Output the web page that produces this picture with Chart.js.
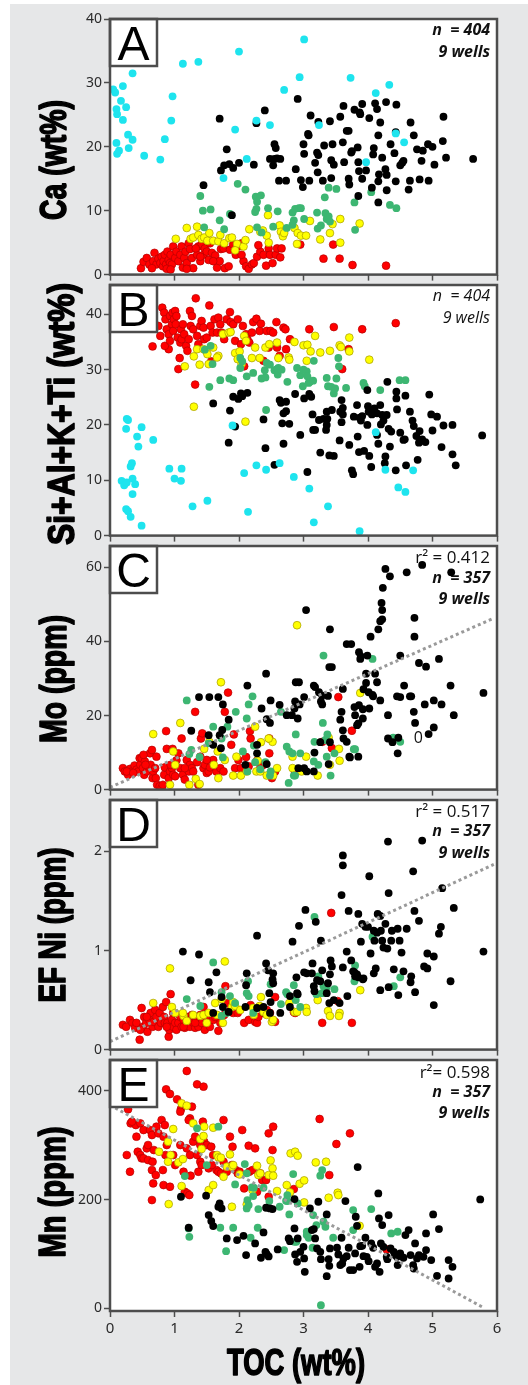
<!DOCTYPE html>
<html>
<head>
<meta charset="utf-8">
<title>TOC cross-plots</title>
<script src="https://cdn.jsdelivr.net/npm/chart.js@4/dist/chart.umd.min.js"></script>
<style>
  html, body { margin: 0; padding: 0; background: #fff; }
  body { width: 528px; height: 1385px; position: relative; overflow: hidden; }
  #bg { position: absolute; left: 10px; top: 4px; right: 0; bottom: 0; background: #e6e7e8; }
  .panel { position: absolute; left: 10px; width: 500px; }
</style>
</head>
<body>
<div id="bg"></div>
<div class="panel" id="wrapA"><canvas id="chartA"></canvas></div>
<div class="panel" id="wrapB"><canvas id="chartB"></canvas></div>
<div class="panel" id="wrapC"><canvas id="chartC"></canvas></div>
<div class="panel" id="wrapD"><canvas id="chartD"></canvas></div>
<div class="panel" id="wrapE"><canvas id="chartE"></canvas></div>
<script>
// ── Shared axis ──
const xTicks = [0, 1, 2, 3, 4, 5, 6];

// ── Panel A: Ca (wt%) vs TOC ──
const aTicks = [0, 10, 20, 30, 40];
const aCyan = [[0.05,29.0],[0.08,28.5],[0.20,29.5],[0.35,31.5],[0.17,27.2],[0.10,25.9],[0.11,25.1],[0.25,26.2],[0.20,24.2],[0.28,21.9],[0.35,21.1],[0.29,19.8],[0.10,20.6],[0.14,19.4],[0.11,18.9],[0.53,18.6],[0.78,18.0],[0.85,21.2],[0.95,24.1],[0.97,27.9],[1.13,33.0],[1.37,33.3],[2.00,34.9],[1.94,22.7],[1.76,15.1],[2.12,18.1],[2.27,24.1],[2.48,23.4],[2.70,28.9],[2.94,30.9],[3.01,36.8],[3.24,23.4],[3.73,30.8],[3.97,17.6],[4.12,28.4],[4.33,29.7],[4.43,22.1],[4.56,20.7]];
const aBlack = [[1.45,14.0],[1.70,24.4],[1.81,19.6],[1.72,16.3],[1.77,17.1],[1.85,17.3],[1.91,16.7],[2.00,17.5],[1.89,9.3],[2.23,17.2],[2.27,23.7],[2.40,25.7],[2.55,20.4],[2.57,19.8],[2.48,18.1],[2.55,18.1],[2.59,18.2],[2.64,18.1],[2.53,17.1],[2.62,14.7],[2.73,14.7],[2.91,27.5],[2.88,16.5],[2.96,14.8],[2.99,13.7],[3.00,20.4],[3.01,18.9],[3.09,14.7],[3.08,21.8],[3.07,22.0],[3.11,24.9],[3.23,23.9],[3.18,17.5],[3.21,19.1],[3.23,18.7],[3.22,16.0],[3.30,14.7],[3.32,20.2],[3.41,24.0],[3.43,17.9],[3.45,20.4],[3.47,17.2],[3.43,15.1],[3.57,24.7],[3.62,26.4],[3.61,20.7],[3.63,17.6],[3.67,22.5],[3.70,22.5],[3.70,15.0],[3.71,14.1],[3.74,19.1],[3.75,19.3],[3.79,25.8],[3.84,19.9],[3.85,17.6],[3.86,16.2],[3.87,25.4],[3.88,25.1],[3.91,26.7],[3.91,15.0],[3.85,12.3],[3.97,16.3],[4.02,24.5],[4.08,18.8],[4.09,19.8],[4.06,13.6],[4.11,26.8],[4.14,25.9],[4.16,21.8],[4.16,14.6],[4.17,15.7],[4.19,23.8],[4.22,18.3],[4.27,16.5],[4.28,27.0],[4.29,15.6],[4.29,13.2],[4.35,20.4],[4.41,19.0],[4.43,14.6],[4.44,26.6],[4.43,22.3],[4.50,17.1],[4.53,17.5],[4.55,17.8],[4.63,13.3],[4.66,23.8],[4.65,14.7],[4.71,21.8],[4.76,19.6],[4.80,14.9],[4.83,17.8],[4.85,19.4],[4.93,20.4],[4.94,14.7],[5.00,20.0],[5.03,17.2],[5.16,20.9],[5.17,24.7],[5.21,18.3],[5.63,18.1],[4.16,11.3]];
const aGreen = [[1.40,12.3],[1.44,10.0],[1.56,10.2],[1.46,7.4],[1.70,8.5],[1.77,7.1],[1.86,9.5],[1.98,14.2],[2.10,13.3],[2.26,12.2],[2.34,12.4],[2.28,11.4],[2.27,10.3],[2.25,9.8],[2.45,10.4],[2.60,9.9],[2.28,7.4],[2.35,6.6],[2.53,7.5],[2.74,7.3],[2.83,9.7],[2.85,8.5],[2.87,10.3],[2.93,10.4],[2.96,10.4],[2.83,7.8],[3.01,8.7],[3.21,9.7],[3.22,7.2],[3.27,7.7],[3.33,12.1],[3.34,9.6],[3.36,8.7],[3.39,9.1],[3.41,8.3],[3.39,13.6],[3.51,13.4],[3.79,11.3],[3.80,7.0],[4.05,12.9],[4.34,10.9],[4.44,10.4]];
const aYellow = [[1.02,5.6],[1.19,7.3],[1.25,5.6],[1.29,5.8],[1.35,7.5],[1.37,6.2],[1.42,5.6],[1.46,5.8],[1.51,5.3],[1.54,6.5],[1.60,5.3],[1.68,5.2],[1.71,6.2],[1.77,4.9],[1.85,5.7],[1.89,5.8],[1.97,4.8],[1.94,3.8],[2.07,4.4],[2.10,5.4],[2.16,7.1],[2.33,6.7],[2.37,6.9],[2.43,6.1],[2.45,9.3],[2.46,5.0],[2.63,7.7],[2.65,6.7],[2.68,6.0],[2.70,6.5],[2.86,7.3],[2.91,6.5],[2.90,4.8],[2.96,6.1],[3.04,6.1],[3.10,8.4],[3.26,5.5],[3.41,6.5],[3.45,7.9],[3.57,8.7],[3.57,5.0],[3.87,8.0]];
const aRed = [[0.48,1.0],[0.52,2.0],[0.57,2.6],[0.61,1.6],[0.67,2.1],[0.69,3.4],[0.72,1.6],[0.75,2.5],[0.78,1.8],[0.80,2.8],[0.82,1.3],[0.83,2.1],[0.85,3.1],[0.87,1.6],[0.89,3.6],[0.91,2.3],[0.92,1.0],[0.93,1.8],[0.94,3.1],[0.96,1.6],[0.98,4.4],[1.01,2.6],[1.03,3.6],[1.06,2.1],[1.09,3.1],[1.11,4.4],[1.13,1.1],[1.15,2.6],[1.17,3.6],[1.19,1.8],[1.22,4.9],[1.24,4.0],[1.27,2.6],[1.29,1.0],[1.35,3.1],[1.37,4.4],[1.40,2.1],[1.42,4.7],[1.45,3.1],[1.47,4.1],[1.50,3.6],[1.53,2.3],[1.55,4.9],[1.58,3.4],[1.63,3.0],[1.66,1.1],[1.70,2.1],[1.72,4.0],[1.76,4.1],[1.78,1.0],[1.84,1.3],[1.86,3.9],[1.91,4.7],[1.95,3.1],[1.99,4.4],[2.04,4.9],[2.07,2.1],[2.11,1.3],[2.15,0.9],[2.20,1.6],[2.23,1.8],[2.28,2.8],[2.33,3.6],[2.30,4.6],[2.38,3.1],[2.42,1.4],[2.46,4.1],[2.48,3.1],[2.52,1.8],[2.57,3.1],[2.59,4.1],[2.64,2.7],[2.66,4.1],[2.95,4.7],[3.31,2.5],[3.46,4.7],[3.56,2.5],[3.76,1.5],[4.28,1.4],[1.19,0.9],[0.88,0.9],[0.94,0.8],[0.65,1.0],[2.04,3.1],[1.60,2.1],[1.40,2.8],[1.33,4.1]];

// ── Panel B: Si+Al+K+Ti (wt%) vs TOC ──
const bTicks = [0, 10, 20, 30, 40];
const bCyan = [[0.18,9.9],[0.22,9.1],[0.26,9.6],[0.25,19.3],[0.28,20.9],[0.26,21.1],[0.32,12.5],[0.34,13.1],[0.35,10.3],[0.39,9.3],[0.35,7.5],[0.42,17.9],[0.44,16.1],[0.49,19.6],[0.67,17.3],[0.25,4.8],[0.28,4.4],[0.32,3.4],[0.49,1.8],[0.92,12.1],[1.00,10.3],[1.10,9.9],[1.11,12.1],[1.28,5.3],[1.51,6.3],[1.90,19.9],[2.08,11.3],[2.14,4.3],[2.27,12.7],[2.42,11.9],[2.63,13.1],[2.85,10.6],[3.09,8.5],[3.16,2.4],[3.38,5.3],[3.87,0.8],[4.12,18.7],[4.27,11.9],[4.47,8.7],[4.58,7.9],[4.70,11.8]];
const bBlack = [[1.60,23.9],[1.86,22.6],[1.91,25.1],[1.94,19.7],[1.99,24.7],[2.03,25.7],[2.05,25.2],[2.13,25.8],[1.84,16.8],[2.38,21.0],[2.41,15.8],[2.55,12.8],[2.63,24.5],[2.65,24.0],[2.67,20.3],[2.69,22.1],[2.69,16.6],[2.73,22.5],[2.73,24.2],[2.78,20.2],[2.87,25.6],[3.01,24.8],[3.06,11.5],[3.09,25.6],[3.12,25.1],[3.14,21.9],[3.15,19.1],[3.18,19.1],[3.24,20.9],[3.26,15.0],[3.31,21.1],[3.35,19.1],[3.36,22.4],[3.37,21.1],[3.40,14.5],[3.44,22.7],[3.47,14.4],[3.56,17.2],[3.57,22.4],[3.59,20.5],[3.61,23.1],[3.59,24.5],[3.61,21.9],[3.71,16.4],[3.75,11.8],[3.77,11.1],[3.78,21.5],[3.83,23.6],[3.84,17.9],[3.86,15.1],[3.87,21.3],[3.89,20.8],[3.91,21.6],[3.94,15.3],[3.99,26.3],[3.99,20.0],[4.00,23.4],[4.01,22.4],[4.02,14.4],[4.05,12.4],[4.06,21.9],[4.10,23.0],[4.14,22.1],[4.16,16.6],[4.19,23.6],[4.20,20.1],[4.22,21.8],[4.24,20.8],[4.27,14.3],[4.26,13.1],[4.30,27.8],[4.29,21.8],[4.34,16.1],[4.32,19.3],[4.36,18.8],[4.43,11.8],[4.44,26.0],[4.45,22.8],[4.44,24.8],[4.50,18.6],[4.55,17.3],[4.58,25.3],[4.57,17.4],[4.59,12.7],[4.65,22.4],[4.69,20.8],[4.71,19.8],[4.75,18.0],[4.77,13.7],[4.79,16.8],[4.80,18.9],[4.84,17.4],[4.89,16.9],[4.95,25.5],[4.98,21.9],[5.00,19.0],[5.07,21.5],[5.14,16.0],[5.17,19.9],[5.31,20.0],[5.31,14.7],[5.36,12.7],[5.77,18.1],[2.95,18.2],[3.36,20.0],[4.14,18.2]];
const bGreen = [[1.47,33.6],[1.59,31.0],[1.54,26.9],[1.71,28.1],[1.85,28.4],[1.91,28.1],[2.02,32.1],[2.02,30.3],[2.12,28.8],[2.22,29.4],[2.35,28.4],[2.41,28.6],[2.40,29.9],[2.43,31.2],[2.48,30.9],[2.55,29.9],[2.60,29.1],[2.59,30.1],[2.61,30.3],[2.66,30.0],[2.75,27.8],[2.90,30.3],[2.95,29.0],[2.99,27.0],[3.00,30.0],[3.05,29.7],[3.06,28.8],[3.10,27.8],[3.16,31.6],[3.08,27.6],[3.15,28.0],[3.36,28.5],[3.38,27.0],[3.43,26.9],[3.47,25.7],[3.49,26.6],[3.51,28.4],[3.54,32.1],[3.55,30.6],[3.66,26.7],[3.93,27.6],[3.95,27.0],[4.19,26.3],[4.49,28.1],[4.58,28.1],[2.42,22.7],[1.56,34.3],[2.05,31.5]];
const bYellow = [[1.30,32.4],[1.35,33.7],[1.39,30.9],[1.45,33.7],[1.49,33.4],[1.51,32.8],[1.53,31.0],[1.68,32.5],[1.75,36.4],[1.84,36.7],[1.87,36.8],[1.94,33.0],[1.98,31.9],[2.01,33.3],[2.04,31.0],[2.08,36.1],[2.11,35.2],[2.20,32.1],[2.25,34.0],[2.32,32.1],[2.41,34.0],[2.47,34.6],[2.59,34.9],[2.61,32.1],[2.77,32.2],[2.78,31.8],[2.86,35.0],[3.00,34.4],[3.06,34.5],[3.05,31.6],[3.11,33.3],[3.18,36.1],[3.26,33.1],[3.41,33.4],[3.56,34.4],[3.58,34.1],[3.71,35.8],[3.71,33.3],[4.02,31.8],[2.10,20.6],[1.30,23.3],[1.16,30.6],[1.60,34.0],[1.66,32.2]];
const bRed = [[0.66,34.2],[0.75,37.9],[0.81,41.2],[0.84,40.3],[0.86,39.1],[0.88,37.3],[0.91,36.4],[0.91,33.7],[0.93,39.7],[0.96,38.2],[0.97,40.3],[0.98,37.0],[0.99,39.1],[1.01,40.6],[1.02,38.2],[1.03,39.7],[1.05,35.8],[1.06,30.1],[1.08,32.1],[1.09,34.9],[1.10,37.3],[1.11,35.5],[1.13,38.2],[1.15,36.4],[1.18,34.3],[1.20,33.4],[1.22,35.5],[1.24,40.6],[1.25,37.9],[1.27,39.7],[1.29,37.3],[1.32,27.3],[1.33,42.9],[1.35,36.1],[1.37,34.6],[1.40,37.9],[1.42,38.8],[1.45,37.6],[1.46,35.5],[1.50,35.8],[1.54,41.6],[1.56,37.9],[1.57,31.5],[1.59,36.7],[1.62,39.1],[1.66,36.7],[1.68,39.4],[1.71,38.2],[1.73,36.7],[1.77,35.5],[1.81,39.1],[1.86,40.4],[1.87,38.6],[1.91,38.2],[1.94,35.2],[1.98,39.1],[2.03,34.6],[2.06,37.9],[2.08,30.6],[2.11,36.4],[2.13,35.5],[2.16,34.9],[2.20,36.7],[2.22,38.6],[2.27,39.2],[2.32,37.0],[2.34,38.3],[2.38,31.6],[2.43,37.0],[2.46,34.0],[2.49,37.0],[2.53,36.7],[2.58,38.6],[2.59,34.0],[2.63,32.5],[2.69,37.6],[2.72,37.3],[2.73,33.7],[2.79,35.5],[3.09,37.3],[3.47,37.7],[3.70,33.7],[3.60,30.1],[3.91,37.3],[4.43,38.4],[0.78,36.1],[0.85,34.3],[0.93,35.2]];

// ── Panel C: Mo (ppm) vs TOC ──
const cTicks = [0, 20, 40, 60];
const cTrend = [[0, 0.6], [5.95, 46.3]];
const cBlack = [[4.27,59.6],[4.34,57.6],[4.23,54.5],[4.21,50.4],[4.22,48.5],[4.19,45.5],[4.16,43.3],[4.22,46.0],[4.60,58.7],[4.84,60.7],[5.29,58.7],[4.72,46.4],[4.72,41.3],[4.79,34.2],[4.90,33.2],[5.10,35.3],[3.04,48.5],[3.41,43.3],[3.40,33.1],[3.44,33.1],[3.67,39.3],[3.74,39.3],[3.86,37.1],[3.89,36.0],[3.88,35.3],[3.99,36.2],[4.04,41.3],[3.97,31.3],[4.11,31.3],[4.14,29.0],[4.19,24.1],[4.50,36.2],[4.56,28.1],[4.65,25.2],[4.67,25.2],[4.71,21.0],[4.73,18.0],[4.88,23.0],[5.02,24.1],[5.14,23.0],[5.28,28.1],[5.33,20.1],[5.79,26.1],[4.31,20.1],[4.45,25.2],[4.50,25.0],[4.31,13.8],[4.38,12.8],[4.46,9.8],[4.47,14.0],[4.94,15.0],[5.02,16.8],[3.93,27.1],[3.86,22.8],[3.92,19.2],[3.92,21.7],[3.85,17.9],[4.07,25.6],[4.02,21.9],[4.08,25.2],[4.01,26.3],[3.97,28.8],[3.61,27.2],[3.57,18.9],[3.59,21.0],[3.61,16.0],[3.62,13.8],[3.67,12.9],[3.71,8.9],[3.72,8.7],[3.85,8.9],[3.79,22.3],[3.80,20.1],[3.83,17.4],[3.38,25.3],[3.29,25.4],[3.27,23.8],[3.29,23.0],[3.24,26.3],[3.18,27.7],[3.16,28.1],[2.93,29.0],[2.88,29.0],[3.01,25.0],[2.94,23.0],[2.91,19.2],[2.87,23.8],[2.86,21.9],[2.82,20.1],[2.74,20.1],[2.63,22.9],[2.49,24.1],[2.43,19.0],[2.48,18.0],[2.42,31.3],[2.35,21.9],[2.13,28.1],[1.54,25.0],[1.68,25.0],[1.75,23.0],[1.84,18.9],[1.74,16.1],[1.70,14.7],[1.53,14.7],[1.60,12.1],[1.26,15.9],[1.38,25.0],[2.28,9.8],[2.43,6.9],[3.01,5.8],[2.92,5.8],[3.05,4.9],[3.16,4.9],[3.17,10.0],[3.26,12.8],[3.41,12.8],[3.39,6.9],[2.28,12.1],[2.10,6.7],[1.72,11.2]];
const cGreen = [[1.19,24.1],[2.21,25.2],[2.15,23.0],[2.12,19.2],[1.95,21.0],[1.82,17.0],[1.60,17.0],[1.26,10.7],[1.23,9.6],[1.39,8.8],[1.53,12.5],[1.73,13.8],[1.75,8.7],[2.23,11.9],[2.25,7.4],[2.33,5.5],[2.41,7.4],[2.65,21.0],[2.74,11.6],[2.78,10.3],[2.83,9.8],[2.88,14.9],[2.95,9.8],[2.85,3.8],[2.77,1.8],[2.87,3.8],[3.16,7.6],[3.17,12.9],[3.23,6.7],[3.30,18.0],[3.34,13.4],[3.37,14.9],[3.36,8.9],[3.42,3.8],[3.31,36.2],[3.48,9.8],[3.78,10.9],[3.80,10.9],[4.07,35.3],[4.39,14.0],[4.50,12.9],[2.49,4.9],[2.48,3.8],[2.06,10.3],[2.13,4.9]];
const cYellow = [[0.67,15.0],[1.09,18.0],[1.72,29.0],[2.90,44.4],[3.88,26.1],[0.98,10.3],[1.01,6.7],[0.93,1.3],[1.23,1.3],[1.33,2.9],[1.46,11.0],[1.54,12.9],[1.61,6.7],[1.68,3.1],[1.78,8.0],[1.91,3.8],[1.96,8.9],[2.03,3.8],[2.12,4.9],[2.25,17.0],[2.27,4.9],[2.29,7.8],[2.33,4.9],[2.34,12.8],[2.43,3.8],[2.52,12.9],[2.53,3.8],[2.59,5.8],[2.83,8.9],[2.83,5.8],[2.97,4.9],[3.04,8.9],[3.22,3.8],[3.39,14.0],[3.41,6.7],[3.55,11.0],[3.56,7.8],[1.39,1.5],[1.67,10.3],[2.46,13.8]];
const cRed = [[0.20,5.8],[0.23,4.9],[0.28,4.0],[0.31,5.6],[0.34,4.9],[0.38,6.5],[0.41,5.4],[0.44,4.9],[0.46,8.5],[0.47,6.7],[0.49,8.5],[0.51,5.8],[0.53,4.0],[0.54,7.6],[0.57,4.9],[0.59,6.3],[0.62,9.8],[0.63,6.7],[0.65,10.7],[0.66,3.1],[0.67,4.9],[0.70,5.8],[0.71,3.1],[0.73,1.3],[0.77,0.9],[0.80,0.4],[0.82,1.3],[0.84,4.0],[0.85,6.0],[0.87,15.8],[0.88,11.0],[0.91,3.1],[0.93,4.9],[0.96,5.8],[0.97,11.0],[0.98,4.0],[1.01,3.6],[1.03,7.9],[1.06,9.8],[1.09,5.8],[1.11,13.8],[1.13,4.0],[1.16,2.7],[1.19,8.0],[1.22,4.9],[1.24,6.7],[1.27,5.8],[1.29,4.9],[1.32,21.0],[1.35,7.4],[1.37,1.3],[1.40,8.9],[1.41,13.8],[1.43,15.2],[1.45,5.8],[1.47,6.7],[1.50,4.5],[1.53,4.9],[1.55,6.0],[1.60,8.0],[1.65,4.9],[1.71,5.8],[1.76,4.9],[1.78,21.0],[1.83,26.2],[1.92,14.9],[1.94,5.8],[1.99,8.0],[2.03,5.8],[2.11,8.8],[2.15,6.3],[2.17,15.8],[2.18,13.8],[2.28,7.8],[2.33,5.8],[2.38,6.7],[2.47,13.8],[2.47,9.8],[2.51,3.1],[2.56,4.9],[2.87,4.5],[3.29,12.9],[3.44,11.2],[3.54,25.0],[3.75,15.9],[0.55,6.7],[0.26,4.9],[0.36,4.5],[0.52,9.4],[0.72,8.9],[0.94,6.7],[1.16,5.8],[1.50,8.0],[1.88,12.1]];
const cMarks = [[4.78, 13.8, '0']];

// ── Panel D: EF Ni (ppm) vs TOC ──
const dTicks = [0, 1, 2];
const dTrend = [[0, 0.08], [5.95, 1.87]];
const dBlack = [[1.13,0.99],[1.38,0.96],[1.25,0.70],[1.53,0.68],[1.55,0.58],[1.65,0.78],[1.73,0.53],[1.60,0.37],[1.75,0.43],[1.84,0.38],[2.11,0.65],[2.12,0.77],[2.28,1.15],[2.10,0.43],[2.28,0.42],[2.42,0.87],[2.45,0.80],[2.52,0.71],[2.53,0.67],[2.47,0.57],[2.49,0.48],[2.64,0.37],[2.79,0.43],[2.83,1.09],[2.89,0.73],[2.93,1.25],[2.91,0.56],[3.03,1.41],[3.01,0.78],[3.05,0.77],[3.13,0.77],[3.14,0.87],[3.16,0.64],[3.17,0.59],[3.19,1.29],[3.21,0.70],[3.26,0.69],[3.27,1.10],[3.29,0.80],[3.36,0.57],[3.38,0.67],[3.41,0.76],[3.42,0.90],[3.44,0.84],[3.40,0.47],[3.56,0.47],[3.59,1.56],[3.61,1.96],[3.61,1.86],[3.61,0.83],[3.67,0.99],[3.70,1.40],[3.68,0.54],[3.74,0.90],[3.77,0.79],[3.79,0.78],[3.80,0.74],[3.85,1.37],[3.89,1.09],[3.91,1.27],[3.93,0.72],[3.92,0.71],[3.96,1.24],[4.00,1.24],[4.02,1.75],[4.04,0.97],[4.09,0.77],[4.10,1.10],[4.12,0.82],[4.14,1.18],[4.15,1.37],[4.19,1.35],[4.19,0.60],[4.20,1.20],[4.22,1.10],[4.24,1.03],[4.27,1.27],[4.30,1.02],[4.31,2.10],[4.32,1.58],[4.32,0.63],[4.36,1.10],[4.37,1.20],[4.40,0.81],[4.46,1.22],[4.47,0.55],[4.49,1.10],[4.52,0.98],[4.55,0.79],[4.60,1.22],[4.66,0.68],[4.67,0.74],[4.70,1.80],[4.72,1.40],[4.73,0.58],[4.79,1.30],[4.84,2.11],[4.87,0.84],[4.92,0.82],[4.92,0.97],[5.02,0.94],[5.02,0.45],[5.10,1.17],[5.13,1.24],[5.15,1.63],[5.28,0.69],[5.33,1.43],[5.79,0.99],[4.09,1.20],[3.85,0.73],[3.83,0.76],[2.53,0.77],[2.38,0.43],[2.48,0.37],[2.79,0.54],[2.90,0.57],[3.47,0.50]];
const dGreen = [[1.60,0.88],[1.19,0.51],[1.40,0.44],[1.73,0.58],[1.86,0.54],[1.94,0.47],[2.12,0.57],[2.14,0.69],[2.15,0.54],[2.22,0.37],[2.49,0.66],[2.65,0.46],[2.73,0.58],[2.75,0.56],[2.85,0.65],[2.88,0.50],[2.95,0.43],[3.17,1.34],[3.20,0.56],[3.23,0.74],[3.29,0.57],[3.31,0.64],[3.34,0.65],[3.36,0.63],[3.48,0.61],[3.80,0.85],[3.79,0.69],[4.07,1.14],[4.40,0.64],[4.50,0.73],[1.81,0.37],[1.73,0.34]];
const dYellow = [[0.93,0.82],[1.78,0.89],[0.67,0.47],[0.96,0.43],[1.01,0.37],[1.14,0.34],[1.13,0.37],[1.29,0.35],[1.40,0.34],[1.45,0.35],[1.53,0.37],[1.63,0.47],[1.66,0.35],[1.73,0.51],[1.75,0.27],[1.89,0.43],[1.91,0.48],[1.94,0.44],[2.02,0.40],[2.22,0.42],[2.23,0.35],[2.34,0.53],[2.38,0.38],[2.43,0.35],[2.51,0.28],[2.53,0.30],[2.78,0.47],[2.86,0.38],[2.90,0.38],[3.04,0.42],[3.05,0.38],[3.22,0.50],[3.38,0.39],[3.41,0.34],[3.56,0.37],[3.55,0.34],[3.88,0.60],[1.19,0.29],[1.50,0.27],[2.32,0.44]];
const dRed = [[0.20,0.25],[0.25,0.23],[0.31,0.30],[0.35,0.27],[0.39,0.22],[0.41,0.27],[0.46,0.10],[0.49,0.42],[0.51,0.23],[0.53,0.33],[0.56,0.27],[0.58,0.18],[0.61,0.30],[0.63,0.37],[0.66,0.23],[0.68,0.28],[0.70,0.40],[0.72,0.33],[0.75,0.23],[0.77,0.37],[0.79,0.27],[0.82,0.43],[0.84,0.33],[0.85,0.27],[0.87,0.48],[0.89,0.27],[0.91,0.13],[0.92,0.20],[0.94,0.56],[0.96,0.30],[0.98,0.23],[1.01,0.27],[1.03,0.20],[1.06,0.27],[1.09,0.33],[1.11,0.23],[1.14,0.30],[1.16,0.22],[1.19,0.33],[1.22,0.27],[1.24,0.23],[1.27,0.35],[1.29,0.27],[1.32,0.22],[1.35,0.30],[1.37,0.23],[1.40,0.35],[1.42,0.27],[1.45,0.43],[1.47,0.20],[1.50,0.30],[1.53,0.27],[1.55,0.23],[1.60,0.30],[1.63,0.33],[1.68,0.19],[1.71,0.27],[1.77,0.35],[1.79,0.64],[1.83,0.47],[1.86,0.39],[1.91,0.37],[1.98,0.37],[2.08,0.27],[2.15,0.30],[2.18,0.45],[2.25,0.28],[2.28,0.27],[2.30,0.33],[2.38,0.37],[2.43,0.40],[2.48,0.37],[2.56,0.28],[2.56,0.53],[2.85,0.38],[2.87,0.37],[3.29,0.27],[3.43,1.38],[3.53,0.49],[3.75,0.27],[0.47,0.20],[0.57,0.33],[0.88,0.23],[0.98,0.37],[1.14,0.23],[1.32,0.27]];

// ── Panel E: Mn (ppm) vs TOC ──
const eTicks = [0, 200, 400];
const eTrend = [[0, 374], [5.8, 1]];
const eBlack = [[1.10,205.5],[1.22,148.5],[1.49,207.4],[1.53,171.8],[1.57,160.7],[1.60,151.5],[1.68,187.1],[1.70,193.3],[1.73,184.1],[1.81,128.8],[1.97,125.8],[2.07,133.7],[2.11,98.2],[2.25,119.6],[2.34,93.3],[2.38,139.9],[2.41,104.3],[2.43,100.0],[2.46,95.7],[2.42,185.3],[2.48,184.1],[2.52,182.8],[2.60,108.6],[2.77,128.8],[2.79,123.9],[2.86,201.2],[2.86,147.2],[2.87,99.4],[2.90,85.9],[2.91,128.8],[2.95,104.3],[3.00,113.5],[3.01,92.0],[3.02,67.5],[3.10,184.1],[3.13,144.2],[3.16,146.0],[3.18,128.8],[3.21,110.4],[3.23,196.3],[3.26,104.3],[3.27,90.8],[3.36,173.0],[3.39,90.8],[3.40,78.5],[3.36,59.5],[3.41,110.4],[3.52,111.7],[3.54,99.4],[3.57,79.8],[3.59,130.1],[3.60,82.8],[3.62,92.0],[3.65,197.5],[3.67,96.3],[3.70,111.7],[3.72,70.6],[3.77,70.6],[3.80,101.2],[3.81,168.7],[3.83,152.1],[3.84,260.1],[3.87,76.7],[3.88,114.7],[3.91,115.3],[3.96,130.1],[3.98,95.1],[4.01,87.1],[4.05,119.6],[4.08,111.7],[4.11,76.7],[4.14,82.8],[4.16,211.7],[4.17,165.6],[4.18,67.5],[4.20,119.6],[4.22,153.4],[4.24,113.5],[4.29,95.1],[4.30,90.8],[4.32,171.8],[4.35,110.4],[4.40,104.3],[4.42,98.2],[4.45,95.1],[4.46,79.8],[4.50,101.2],[4.58,135.0],[4.63,144.2],[4.66,98.2],[4.70,79.8],[4.71,73.6],[4.73,119.6],[4.76,92.0],[4.79,98.2],[4.86,95.1],[4.90,107.4],[4.90,138.0],[4.98,89.0],[5.01,173.0],[5.07,60.1],[5.10,146.0],[5.25,89.0],[5.25,55.2],[5.31,76.7],[5.74,200.6],[3.93,96.3],[4.55,93.3]];
const eGreen = [[1.68,334.4],[1.50,263.8],[1.16,243.6],[1.22,147.2],[1.23,131.9],[1.71,148.5],[1.91,148.5],[1.80,105.5],[1.94,228.2],[2.09,265.6],[2.12,248.5],[2.12,184.1],[2.13,199.4],[2.15,190.2],[2.18,130.1],[2.20,222.7],[2.23,222.1],[2.29,148.5],[2.30,182.8],[2.38,222.1],[2.47,197.5],[2.63,187.1],[2.70,107.4],[2.73,198.2],[2.75,197.5],[2.75,208.6],[2.78,173.0],[2.84,247.2],[2.86,122.7],[2.89,122.7],[2.91,193.3],[3.05,141.1],[3.05,135.0],[3.08,130.1],[3.15,171.8],[3.14,111.7],[3.20,153.4],[3.26,244.2],[3.29,254.6],[3.31,159.5],[3.34,150.3],[3.46,130.1],[3.77,181.0],[3.77,144.2],[4.05,182.8],[4.36,138.0],[4.46,141.1],[3.27,6.1],[1.35,331.3],[2.22,206.7]];
const eYellow = [[1.11,377.3],[1.19,373.0],[0.98,330.1],[0.94,282.2],[0.90,269.9],[1.06,268.7],[1.13,274.8],[1.29,340.5],[1.40,311.7],[1.45,317.2],[1.42,293.3],[1.46,334.4],[1.60,332.5],[0.76,288.3],[0.90,306.8],[1.53,217.8],[1.60,227.0],[1.66,282.2],[1.68,277.9],[1.72,277.3],[1.76,242.3],[1.81,260.7],[1.89,260.7],[1.91,263.8],[1.86,283.4],[2.01,246.6],[2.12,191.4],[2.21,217.8],[2.28,262.6],[2.30,245.4],[2.33,248.5],[2.46,245.4],[2.49,272.4],[2.52,257.7],[2.53,244.2],[2.59,216.0],[2.74,227.0],[2.79,213.5],[2.80,285.3],[2.87,288.3],[2.91,281.0],[2.94,229.4],[3.01,235.6],[3.01,195.1],[3.19,268.7],[3.35,269.9],[3.39,203.7],[3.53,212.9],[3.54,208.6],[1.89,187.1],[0.91,192.0],[1.11,225.2],[3.87,152.1]];
const eRed = [[1.19,436.8],[1.35,412.3],[1.45,408.0],[0.87,403.1],[0.93,394.5],[1.04,384.7],[1.10,366.9],[1.09,362.0],[1.27,371.2],[1.24,349.7],[1.22,346.6],[0.28,366.3],[0.32,340.5],[0.40,337.4],[0.47,340.5],[0.52,328.2],[0.41,316.0],[0.43,288.3],[0.34,343.6],[0.26,282.2],[0.31,251.5],[0.47,282.2],[0.49,276.1],[0.52,276.1],[0.57,294.5],[0.59,300.6],[0.59,273.0],[0.62,328.2],[0.65,319.0],[0.66,269.9],[0.68,291.4],[0.72,334.4],[0.75,322.1],[0.80,346.6],[0.85,337.4],[0.83,316.0],[0.86,282.2],[0.88,300.6],[0.82,254.6],[0.67,230.1],[0.65,199.4],[0.83,227.0],[0.93,223.9],[0.98,282.2],[1.01,263.8],[1.09,300.6],[1.14,251.5],[1.16,214.7],[1.20,211.7],[1.23,208.6],[1.24,282.2],[1.25,244.2],[1.29,306.8],[1.32,316.0],[1.35,282.2],[1.37,251.5],[1.40,269.9],[1.42,263.8],[1.44,343.6],[1.46,306.8],[1.50,300.6],[1.53,257.7],[1.57,297.5],[1.60,282.2],[1.65,254.6],[1.68,251.5],[1.72,248.5],[1.76,346.6],[1.76,269.9],[1.81,251.5],[1.86,316.0],[1.90,297.5],[1.95,254.6],[1.98,248.5],[2.01,251.5],[2.05,328.2],[2.08,220.9],[2.15,299.4],[2.16,251.5],[2.21,254.6],[2.25,294.5],[2.28,214.7],[2.33,248.5],[2.36,236.2],[2.42,236.2],[2.46,205.5],[2.46,322.1],[2.52,291.4],[2.53,334.4],[2.85,219.6],[3.25,348.5],[3.40,245.4],[3.51,302.5],[3.72,322.1],[4.29,108.6],[0.65,254.6],[0.71,245.4],[1.40,300.6],[1.19,294.5],[1.58,263.8],[1.89,263.8]];

// ── Colours ──
const colors = {
  cyan: '#1ee4ee',
  black: '#000000',
  green: '#3db672',
  yellow: '#ffff00',
  yellowEdge: '#a59a00',
  red: '#ff0000',
  redEdge: '#b40000',
  frame: '#4d4d4d',
  tick: '#2b2b2b',
  trend: '#9a9a9a',
};

const tickFont = { family: "'Noto Sans', 'Open Sans', sans-serif", size: 14 };
const titleFont = "bold 37px 'Liberation Sans', Arial, sans-serif";
const noteFamily = "'Open Sans', 'Noto Sans', sans-serif";

const pts = arr => arr.map(p => ({ x: p[0], y: p[1] }));

function dots(data, fill, edge) {
  return {
    data: pts(data),
    backgroundColor: fill,
    borderColor: edge || fill,
    borderWidth: edge ? 0.7 : 0,
    pointRadius: 3.9,
    showLine: false,
  };
}

// condensed heavy title, squeezed to the length it has in the figure
function drawTitle(ctx, text, cx, cy, len, vertical) {
  ctx.save();
  ctx.translate(cx, cy);
  if (vertical) ctx.rotate(-Math.PI / 2);
  ctx.font = titleFont;
  const w = ctx.measureText(text).width;
  ctx.scale(len / w, 1);
  ctx.fillStyle = '#000';
  ctx.strokeStyle = '#000';
  ctx.lineWidth = 1.6;
  ctx.lineJoin = 'round';
  ctx.textAlign = 'center';
  ctx.textBaseline = 'middle';
  ctx.fillText(text, 0, 0);
  ctx.strokeText(text, 0, 0);
  ctx.restore();
}

// ── Frame, panel letter, titles and text notes ──
const panelDecor = {
  id: 'panelDecor',
  beforeDraw(chart) {
    const { ctx, chartArea: a } = chart;
    ctx.save();
    ctx.fillStyle = '#fff';
    ctx.fillRect(a.left, a.top, a.right - a.left, a.bottom - a.top);
    ctx.restore();
  },
  beforeDatasetsDraw(chart, args, opts) {
    const { ctx, chartArea: a } = chart;
    ctx.save();
    ctx.fillStyle = '#111';
    ctx.textAlign = 'right';
    ctx.textBaseline = 'alphabetic';
    (opts.notes || []).forEach(n => {
      ctx.font = n.font + ' ' + noteFamily;
      ctx.fillText(n.text, a.right - 7, a.top + n.dy);
    });
    ctx.textAlign = 'center';
    ctx.textBaseline = 'middle';
    ctx.font = '16px ' + noteFamily;
    (opts.marks || []).forEach(m => {
      ctx.fillText(m[2], chart.scales.x.getPixelForValue(m[0]), chart.scales.y.getPixelForValue(m[1]));
    });
    ctx.restore();
  },
  afterDatasetsDraw(chart, args, opts) {
    const { ctx, chartArea: a } = chart;
    ctx.save();
    ctx.lineWidth = 2.5;
    ctx.strokeStyle = colors.frame;
    ctx.fillStyle = '#fff';
    ctx.fillRect(a.left, a.top, 47, 47);
    ctx.strokeRect(a.left, a.top, 47, 47);
    ctx.strokeRect(a.left, a.top, a.right - a.left, a.bottom - a.top);
    ctx.fillStyle = '#000';
    ctx.textAlign = 'center';
    ctx.textBaseline = 'alphabetic';
    ctx.font = "48px 'Liberation Sans', 'Open Sans', sans-serif";
    ctx.fillText(opts.letter, a.left + 23.5, a.top + 41);
    ctx.restore();
  },
  afterDraw(chart, args, opts) {
    const t = opts.yTitle;
    drawTitle(chart.ctx, t.text, t.cx - opts.offX, t.cy - opts.offY, t.len, true);
    if (opts.xTitle) {
      const x = opts.xTitle;
      drawTitle(chart.ctx, x.text, x.cx - opts.offX, x.cy - opts.offY, x.len, false);
    }
  },
};

function makePanel(p) {
  const wrap = document.getElementById(p.wrap);
  const topPad = 12;
  const canvasTop = p.top - topPad;
  const bottomRoom = p.last ? 1385 - p.bottom : 8;
  wrap.style.top = canvasTop + 'px';
  wrap.style.height = (p.bottom - p.top + topPad + bottomRoom) + 'px';

  const datasets = [];
  if (p.trend) {
    datasets.push({
      data: pts(p.trend),
      showLine: true,
      borderColor: colors.trend,
      borderWidth: 3,
      borderDash: [3, 3],
      pointRadius: 0,
      fill: false,
    });
  }
  if (p.cyan) datasets.push(dots(p.cyan, colors.cyan));
  datasets.push(dots(p.black, colors.black));
  datasets.push(dots(p.green, colors.green));
  datasets.push(dots(p.yellow, colors.yellow, colors.yellowEdge));
  datasets.push(dots(p.red, colors.red, colors.redEdge));

  return new Chart(document.getElementById(p.canvas), {
    type: 'scatter',
    data: { datasets },
    options: {
      responsive: true,
      maintainAspectRatio: false,
      animation: false,
      events: [],
      layout: { padding: { top: topPad, right: 13, left: 0, bottom: 0 } },
      plugins: {
        legend: { display: false },
        tooltip: { enabled: false },
        panelDecor: {
          letter: p.letter, notes: p.notes, marks: p.marks,
          yTitle: p.yTitle, xTitle: p.xTitle, offX: 10, offY: canvasTop,
        },
      },
      scales: {
        x: {
          type: 'linear',
          min: 0,
          max: 6,
          afterBuildTicks: s => { s.ticks = xTicks.map(v => ({ value: v })); },
          afterFit: s => { s.height = bottomRoom; },
          grid: { drawOnChartArea: false, drawTicks: true, tickLength: 6, color: colors.frame, tickWidth: 1.5 },
          border: { display: false },
          ticks: { display: !!p.last, font: { ...tickFont, size: 15 }, color: colors.tick, padding: 3 },
        },
        y: {
          type: 'linear',
          min: p.yMin,
          max: p.yMax,
          afterBuildTicks: s => { s.ticks = p.yTicks.map(v => ({ value: v })); },
          afterFit: s => { s.width = 100; },
          grid: { drawOnChartArea: false, drawTicks: true, tickLength: 6, color: colors.frame, tickWidth: 1.5 },
          border: { display: false },
          ticks: { font: tickFont, color: colors.tick, padding: 2 },
        },
      },
    },
    plugins: [panelDecor],
  });
}

const boldNotes = (dy1, dy2) => [
  { text: 'n  = 404', font: 'italic bold 16px', dy: dy1 },
  { text: '9 wells', font: 'italic bold 16px', dy: dy2 },
];

function init() {
  makePanel({
    wrap: 'wrapA', canvas: 'chartA', letter: 'A', top: 19, bottom: 277,
    yMin: 0, yMax: 40, yTicks: aTicks,
    yTitle: { text: 'Ca (wt%)', cx: 56, cy: 160, len: 120 },
    cyan: aCyan, black: aBlack, green: aGreen, yellow: aYellow, red: aRed,
    notes: boldNotes(16, 38),
  });
  makePanel({
    wrap: 'wrapB', canvas: 'chartB', letter: 'B', top: 285, bottom: 538,
    yMin: 0, yMax: 45.3, yTicks: bTicks,
    yTitle: { text: 'Si+Al+K+Ti (wt%)', cx: 64, cy: 414, len: 262 },
    cyan: bCyan, black: bBlack, green: bGreen, yellow: bYellow, red: bRed,
    notes: [
      { text: 'n  = 404', font: 'italic 16px', dy: 16 },
      { text: '9 wells', font: 'italic 16px', dy: 38 },
    ],
  });
  makePanel({
    wrap: 'wrapC', canvas: 'chartC', letter: 'C', top: 546, bottom: 792,
    yMin: 0, yMax: 65.8, yTicks: cTicks,
    yTitle: { text: 'Mo (ppm)', cx: 56, cy: 679, len: 128 },
    trend: cTrend, black: cBlack, green: cGreen, yellow: cYellow, red: cRed, marks: cMarks,
    notes: [
      { text: 'r\u00b2 = 0.412', font: '17px', dy: 17 },
      { text: 'n  = 357', font: 'italic bold 16px', dy: 37 },
      { text: '9 wells', font: 'italic bold 16px', dy: 58 },
    ],
  });
  makePanel({
    wrap: 'wrapD', canvas: 'chartD', letter: 'D', top: 800, bottom: 1052,
    yMin: 0, yMax: 2.52, yTicks: dTicks,
    yTitle: { text: 'EF Ni (ppm)', cx: 55, cy: 925, len: 155 },
    trend: dTrend, black: dBlack, green: dGreen, yellow: dYellow, red: dRed,
    notes: [
      { text: 'r\u00b2 = 0.517', font: '17px', dy: 17 },
      { text: 'n  = 357', font: 'italic bold 16px', dy: 36 },
      { text: '9 wells', font: 'italic bold 16px', dy: 58 },
    ],
  });
  makePanel({
    wrap: 'wrapE', canvas: 'chartE', letter: 'E', top: 1060, bottom: 1311, last: true,
    yMin: -4.6, yMax: 457, yTicks: eTicks,
    yTitle: { text: 'Mn (ppm)', cx: 55, cy: 1192, len: 131 },
    xTitle: { text: 'TOC (wt%)', cx: 296, cy: 1365, len: 138 },
    trend: eTrend, black: eBlack, green: eGreen, yellow: eYellow, red: eRed,
    notes: [
      { text: 'r\u00b2= 0.598', font: '17px', dy: 18 },
      { text: 'n  = 357', font: 'italic bold 16px', dy: 37 },
      { text: '9 wells', font: 'italic bold 16px', dy: 58 },
    ],
  });
}

init();
</script>
</body>
</html>
